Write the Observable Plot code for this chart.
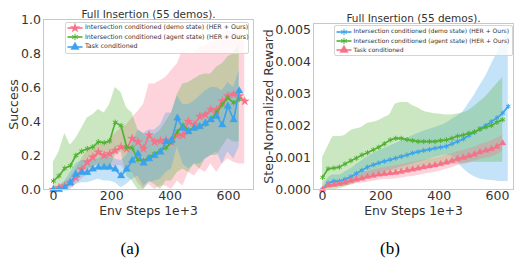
<!DOCTYPE html>
<html><head><meta charset="utf-8">
<script src="https://cdn.jsdelivr.net/npm/d3@7"></script>
<script src="https://cdn.jsdelivr.net/npm/@observablehq/plot@0.6"></script>
<style>
body{margin:0;background:#fff;}
#root{position:relative;width:515px;height:258px;overflow:hidden;font-family:"DejaVu Sans",sans-serif;background:#fff;}
.pl{position:absolute;top:0;}
.lg{position:absolute;border:0.8px solid #d4d4d4;border-radius:2px;background:rgba(255,255,255,0.8);box-sizing:border-box;}
.lt{position:absolute;color:#333;white-space:nowrap;line-height:1;}
.lh{position:absolute;overflow:visible;}
.cap{position:absolute;font-family:"Liberation Serif",serif;font-size:17px;color:#000;line-height:1;}
</style></head><body><div id="root"></div>
<script>
// ---------- data ----------
const steps = [0,19,39,58,77,97,116,135,154,174,193,212,232,251,270,290,309,328,347,367,386,405,425,444,463,483,502,521,540,560,579,598,618,637,656];
const xTicks = [0,200,400,600];
const titleText = "Full Insertion (55 demos).";
const xLabelText = "Env Steps 1e+3";
const yLabelA = "Success";
const yLabelB = "Step-Normalized Reward";
const legendNames = ["Intersection conditioned (demo state) (HER + Ours)", "Intersection conditioned (agent state) (HER + Ours)", "Task conditioned"];
const captions = ["(a)", "(b)"];
const yTicksA = [0,0.2,0.4,0.6,0.8,1.0];
const yTicksB = [0,0.001,0.002,0.003,0.004,0.005];

// (a) Success
const aDemoMean = [0.0,0.01,0.02,0.04,0.07,0.12,0.16,0.19,0.22,0.20,0.21,0.23,0.25,0.24,0.30,0.28,0.24,0.32,0.28,0.285,0.29,0.28,0.32,0.32,0.40,0.38,0.43,0.44,0.47,0.47,0.52,0.55,0.56,0.55,0.52];
const aDemoHi = [0.0,0.02,0.04,0.07,0.12,0.18,0.23,0.25,0.27,0.26,0.30,0.33,0.36,0.38,0.42,0.46,0.50,0.62,0.62,0.64,0.66,0.70,0.74,0.82,0.80,0.80,0.84,0.84,0.87,0.87,0.90,0.93,0.92,0.92,0.90];
const aDemoLo = [0,0,0,0.01,0.03,0.06,0.09,0.12,0.15,0.13,0.13,0.14,0.14,0.10,0.10,0.04,0.0,0.03,0.0,0.02,0.02,0.0,0.05,0.02,0.10,0.08,0.12,0.10,0.15,0.10,0.15,0.18,0.16,0.15,0.15];
const aAgentMean = [0.05,0.08,0.125,0.14,0.20,0.225,0.24,0.25,0.28,0.275,0.285,0.395,0.375,0.25,0.245,0.175,0.17,0.19,0.21,0.23,0.245,0.28,0.34,0.38,0.35,0.36,0.37,0.385,0.415,0.455,0.50,0.54,0.51,0.53];
const aAgentHi = [0.16,0.22,0.33,0.26,0.30,0.36,0.42,0.44,0.47,0.45,0.50,0.60,0.57,0.48,0.45,0.35,0.33,0.30,0.32,0.35,0.40,0.45,0.56,0.62,0.63,0.65,0.67,0.68,0.68,0.72,0.74,0.78,0.80,0.85];
const aAgentLo = [0.0,0.0,0.02,0.05,0.10,0.12,0.12,0.13,0.15,0.12,0.12,0.20,0.22,0.08,0.05,0.0,0.0,0.05,0.03,0.0,0.05,0.05,0.10,0.12,0.10,0.15,0.12,0.18,0.20,0.20,0.25,0.30,0.28,0.28];
const aTaskMean = [0,0,0.01,0.04,0.09,0.10,0.10,0.12,0.13,0.13,0.13,0.12,0.08,0.12,0.17,0.21,0.155,0.18,0.20,0.22,0.28,0.29,0.42,0.36,0.34,0.36,0.37,0.39,0.41,0.43,0.38,0.49,0.41,0.58];
const aTaskHi = [0.0,0.02,0.05,0.10,0.15,0.17,0.17,0.18,0.18,0.20,0.19,0.18,0.17,0.20,0.27,0.35,0.33,0.35,0.35,0.38,0.45,0.45,0.55,0.50,0.50,0.52,0.55,0.58,0.60,0.60,0.58,0.63,0.60,0.70];
const aTaskLo = [0,0,0,0,0.03,0.04,0.04,0.05,0.06,0.05,0.05,0.04,0.01,0.03,0.06,0.08,0.02,0.04,0.05,0.06,0.10,0.12,0.25,0.15,0.12,0.15,0.15,0.18,0.20,0.22,0.15,0.22,0.18,0.25];

// (b) Step-normalized reward
const bDemoMean = [0,0.0002,0.00026,0.00026,0.00032,0.0004,0.0005,0.0006,0.0007,0.00077,0.00083,0.00088,0.00093,0.00098,0.00103,0.00108,0.00114,0.00118,0.00122,0.00125,0.00129,0.00132,0.00135,0.00143,0.0015,0.00158,0.00169,0.00179,0.0019,0.002,0.00212,0.00224,0.00239,0.0026];
const bDemoHi = [0.00005,0.00035,0.00045,0.00045,0.00055,0.00065,0.00078,0.0009,0.00102,0.00112,0.0012,0.00128,0.00136,0.00144,0.00152,0.0016,0.00168,0.00175,0.00182,0.00188,0.00194,0.002,0.00208,0.0022,0.0023,0.00245,0.0027,0.00295,0.00325,0.00355,0.0039,0.00425,0.0046,0.00495];
const bDemoLo = [0,0.00005,0.0001,0.0001,0.00012,0.00018,0.00025,0.00032,0.0004,0.00045,0.0005,0.00055,0.0006,0.00065,0.0007,0.00075,0.0008,0.00085,0.0009,0.00095,0.001,0.00105,0.00108,0.00105,0.00085,0.00065,0.0005,0.0004,0.00033,0.0003,0.00028,0.00026,0.00025,0.00025];
const bAgentMean = [0.00038,0.00065,0.00067,0.0007,0.0008,0.0009,0.00098,0.00108,0.00115,0.00124,0.00132,0.00143,0.00155,0.0016,0.0016,0.00156,0.00153,0.0015,0.0015,0.0015,0.0015,0.00153,0.00155,0.0016,0.00167,0.0017,0.00176,0.0018,0.00188,0.00195,0.002,0.0021,0.00218];
const bAgentHi = [0.001,0.00135,0.00166,0.00166,0.0017,0.00184,0.0019,0.00195,0.00206,0.0021,0.00216,0.00225,0.00236,0.00267,0.00272,0.00272,0.00262,0.00255,0.00245,0.0024,0.00237,0.00235,0.00233,0.00233,0.00236,0.0024,0.00248,0.0026,0.00275,0.0029,0.0031,0.0033,0.0035];
const bAgentLo = [0,0,0,0.00003,0.00008,0.00013,0.0002,0.00028,0.00034,0.0004,0.00045,0.0005,0.00055,0.00058,0.0006,0.00062,0.00064,0.00066,0.00068,0.0007,0.00072,0.00074,0.00076,0.00078,0.0008,0.00082,0.00084,0.00085,0.00085,0.00085,0.00085,0.00085,0.00085];
const bTaskMean = [0,0.00013,0.00015,0.00018,0.00022,0.00028,0.00032,0.00035,0.0004,0.00043,0.00047,0.00049,0.00051,0.00053,0.00056,0.0006,0.00063,0.00066,0.0007,0.00073,0.00076,0.0008,0.00085,0.0009,0.00096,0.001,0.00105,0.0011,0.00117,0.00122,0.00127,0.00134,0.00145];
const bTaskHi = [0.00002,0.0002,0.00024,0.00028,0.00033,0.0004,0.00045,0.0005,0.00056,0.0006,0.00065,0.00068,0.00071,0.00074,0.00077,0.00081,0.00085,0.00088,0.00092,0.00095,0.00098,0.00102,0.00107,0.00112,0.00118,0.00122,0.00127,0.00132,0.0014,0.00146,0.00152,0.0016,0.0017];
const bTaskLo = [0,0.00006,0.00007,0.00009,0.00011,0.00015,0.00018,0.0002,0.00023,0.00026,0.00029,0.00031,0.00032,0.00033,0.00035,0.00039,0.00041,0.00044,0.00048,0.00051,0.00054,0.00058,0.00063,0.00068,0.00074,0.00078,0.00083,0.00088,0.00094,0.00098,0.00102,0.00108,0.0012];

// ---------- drawing ----------
const COL = {pink:"#f77189", green:"#50b131", blue:"#3ba3ec"};
const FONT = "DejaVu Sans";
const root = document.getElementById("root");

function rows(mean, lo, hi) {
  return mean.map((m, i) => ({x: steps[i], m, lo: lo[i], hi: hi[i]}));
}

function panel(o) {
  const marks = [];
  for (const s of o.series) marks.push(Plot.areaY(s.data, {x:"x", y1:"lo", y2:"hi", fill:s.color, fillOpacity:0.3, curve:o.curve}));
  for (const s of o.series) {
    marks.push(Plot.line(s.data, {x:"x", y:"m", stroke:s.color, strokeWidth:1.6, curve:"linear"}));
    marks.push(Plot.dot(s.data, {x:"x", y:"m", symbol:s.symbol, r:s.r, fill:s.symbol==="asterisk"?"none":s.color, stroke:s.color, strokeWidth:s.symbol==="asterisk"?1:0.3}));
  }
  marks.push(Plot.frame({stroke:"#c8c8c8", strokeWidth:1}));
  marks.push(Plot.axisX({ticks:xTicks, tickSize:0, tickPadding:2, fontSize:12.5, color:"#333", label:null}));
  marks.push(Plot.axisY({ticks:o.yTicks, tickSize:0, tickPadding:2.5, fontSize:12.5, color:"#333", label:null, tickFormat:o.yFmt}));
  marks.push(Plot.text([titleText], {frameAnchor:"top", dy:o.titleDy, lineAnchor:"bottom", textAnchor:"middle", fontSize:10.5, fill:"#333"}));
  marks.push(Plot.text([xLabelText], {frameAnchor:"bottom", dy:25.5, lineAnchor:"bottom", textAnchor:"middle", fontSize:12.3, fill:"#333"}));
  marks.push(Plot.text([o.ylabel], {frameAnchor:"left", dx:o.ylabelDx, rotate:-90, lineAnchor:"middle", textAnchor:"middle", fontSize:12.5, fill:"#333"}));
  const svg = Plot.plot({
    width:o.width, height:222,
    marginLeft:o.ml, marginRight:o.mr, marginTop:o.mt, marginBottom:33,
    x:{domain:o.xDomain},
    y:{domain:o.yDomain},
    style:{fontFamily:FONT, background:"transparent", overflow:"visible"},
    marks
  });
  svg.classList.add("pl");
  svg.style.left = o.left + "px";
  root.appendChild(svg);
}

panel({
  left:0, width:258, ml:43, mr:5, mt:19,
  xDomain:[-34,686], yDomain:[0,1], yTicks:yTicksA, yFmt:d3.format(".1f"),
  titleDy:-2, ylabel:yLabelA, ylabelDx:-30, curve:"linear",
  series:[
    {data:rows(aDemoMean,aDemoLo,aDemoHi), color:COL.pink, symbol:"star", r:2.8},
    {data:rows(aAgentMean,aAgentLo,aAgentHi), color:COL.green, symbol:"asterisk", r:2.6},
    {data:rows(aTaskMean,aTaskLo,aTaskHi), color:COL.blue, symbol:"triangle", r:2.8}
  ]
});
panel({
  left:258, width:257, ml:55, mr:2, mt:23,
  xDomain:[-31,655], yDomain:[0,0.00519], yTicks:yTicksB, yFmt:d3.format(".3f"),
  titleDy:-1.5, ylabel:yLabelB, ylabelDx:-45, curve:"monotone-x",
  series:[
    {data:rows(bDemoMean,bDemoLo,bDemoHi), color:COL.blue, symbol:"asterisk", r:2.4},
    {data:rows(bAgentMean,bAgentLo,bAgentHi), color:COL.green, symbol:"asterisk", r:2.4},
    {data:rows(bTaskMean,bTaskLo,bTaskHi), color:COL.pink, symbol:"triangle", r:2.4}
  ]
});

// legends (HTML)
const symMap = {star:d3.symbolStar, asterisk:d3.symbolAsterisk, triangle:d3.symbolTriangle};
function legend(box, entries) {
  const b = document.createElement("div");
  b.className = "lg";
  Object.assign(b.style, {left:box.x+"px", top:box.y+"px", width:box.w+"px", height:box.h+"px"});
  root.appendChild(b);
  entries.forEach((e, i) => {
    const cy = box.y0 + i*box.dy;
    const ns = "http://www.w3.org/2000/svg";
    const s = document.createElementNS(ns, "svg");
    s.setAttribute("class", "lh");
    s.setAttribute("width", 18); s.setAttribute("height", 10);
    s.style.left = (box.hx - 1.5) + "px"; s.style.top = (cy - 5) + "px";
    const ln = document.createElementNS(ns, "line");
    ln.setAttribute("x1", 1.5); ln.setAttribute("x2", 16.5); ln.setAttribute("y1", 5); ln.setAttribute("y2", 5);
    ln.setAttribute("stroke", e.color); ln.setAttribute("stroke-width", 1.6);
    s.appendChild(ln);
    const p = document.createElementNS(ns, "path");
    const r = e.symbol === "triangle" ? 3.2 : 3;
    p.setAttribute("d", d3.symbol(symMap[e.symbol], Math.PI*r*r)());
    p.setAttribute("transform", "translate(9,5)");
    p.setAttribute("fill", e.symbol==="asterisk" ? "none" : e.color);
    p.setAttribute("stroke", e.color);
    p.setAttribute("stroke-width", e.symbol==="asterisk" ? 1 : 0.3);
    s.appendChild(p);
    root.appendChild(s);
    const t = document.createElement("div");
    t.className = "lt";
    t.textContent = e.name;
    t.style.fontSize = box.fs + "px";
    t.style.left = box.tx + "px";
    t.style.top = (cy - box.fs*0.52) + "px";
    root.appendChild(t);
  });
}
legend({x:65, y:22, w:184, h:32, y0:27.5, dy:9.5, hx:67, tx:85, fs:6.3}, [
  {name:legendNames[0], color:COL.pink, symbol:"star"},
  {name:legendNames[1], color:COL.green, symbol:"asterisk"},
  {name:legendNames[2], color:COL.blue, symbol:"triangle"}
]);
legend({x:334, y:25, w:179, h:31, y0:31.5, dy:9.2, hx:336, tx:353.5, fs:6.0}, [
  {name:legendNames[0], color:COL.blue, symbol:"asterisk"},
  {name:legendNames[1], color:COL.green, symbol:"asterisk"},
  {name:legendNames[2], color:COL.pink, symbol:"triangle"}
]);

// captions
[[captions[0], 130], [captions[1], 390]].forEach(([txt, cx]) => {
  const d = document.createElement("div");
  d.className = "cap";
  d.textContent = txt;
  d.style.left = (cx - 30) + "px";
  d.style.width = "60px";
  d.style.textAlign = "center";
  d.style.top = "240px";
  root.appendChild(d);
});
</script></body></html>
